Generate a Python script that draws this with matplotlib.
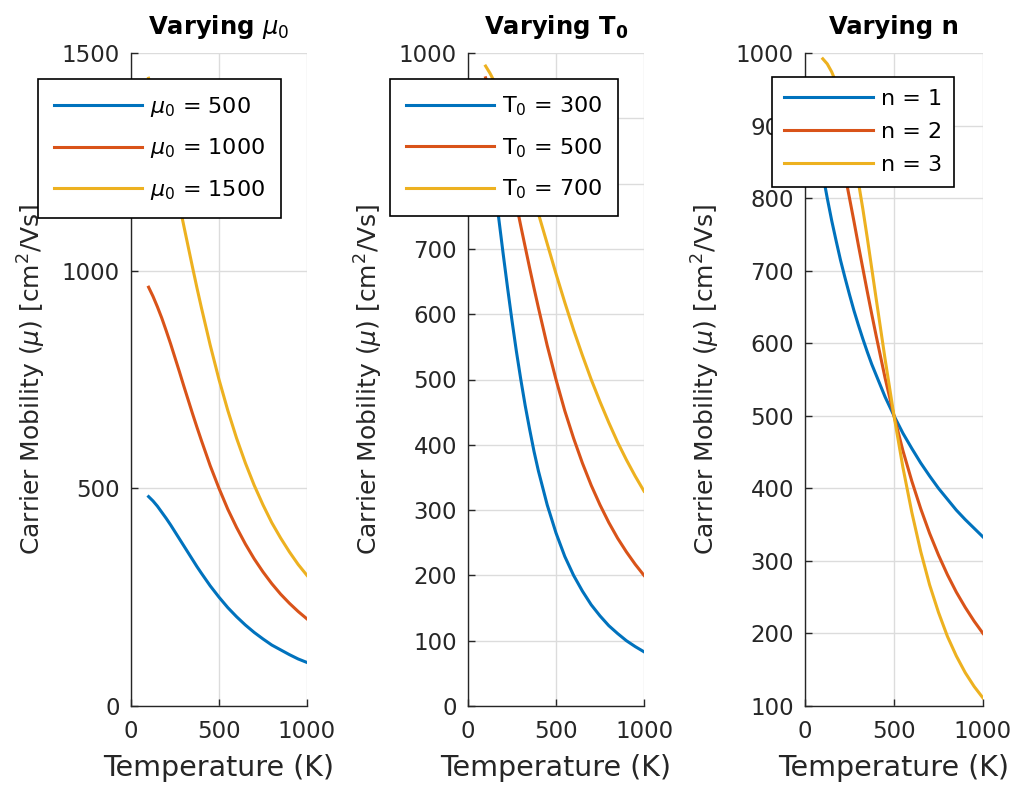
import numpy as np
import matplotlib.pyplot as plt

# Temperatura (K)
T = [100, 125, 150, 175, 200, 225, 250, 275, 300, 325, 350, 375, 400,
     450, 500, 550, 600, 650, 700, 750, 800, 850, 900, 950, 1000]

# Panel 1: variando mu0
mu_500 = [481, 471, 459, 445, 431, 416, 400, 384, 368, 352, 336, 320, 305,
          276, 250, 226, 205, 186, 169, 154, 140, 129, 118, 108, 100]
mu_1000 = [962, 941, 917, 891, 862, 832, 800, 768, 735, 703, 671, 640, 610,
           552, 500, 452, 410, 372, 338, 308, 281, 257, 236, 217, 200]
mu_1500 = [1442, 1412, 1376, 1336, 1293, 1247, 1200, 1152, 1103, 1055, 1007, 960, 915,
           829, 750, 679, 615, 558, 507, 462, 421, 386, 354, 325, 300]

# Panel 2: variando T0
t0_300 = [900, 852, 800, 746, 692, 640, 590, 543, 500, 460, 424, 390, 360,
          308, 265, 229, 200, 176, 155, 138, 123, 111, 100, 91, 83]
t0_500 = [962, 941, 917, 891, 862, 832, 800, 768, 735, 703, 671, 640, 610,
          552, 500, 452, 410, 372, 338, 308, 281, 257, 236, 217, 200]
t0_700 = [980, 969, 956, 941, 925, 906, 887, 866, 845, 823, 800, 777, 754,
          708, 662, 618, 576, 537, 500, 466, 434, 404, 377, 352, 329]

# Panel 3: variando n
n_1 = [833, 800, 769, 741, 714, 690, 667, 645, 625, 606, 588, 571, 556,
       526, 500, 476, 455, 435, 417, 400, 385, 370, 357, 345, 333]
n_2 = [962, 941, 917, 891, 862, 832, 800, 768, 735, 703, 671, 640, 610,
       552, 500, 452, 410, 372, 338, 308, 281, 257, 236, 217, 200]
n_3 = [992, 985, 974, 959, 940, 916, 889, 857, 822, 785, 745, 703, 661,
       578, 500, 429, 367, 313, 267, 229, 196, 169, 146, 127, 111]

labels1 = [r'$\mu_0$ = 500', r'$\mu_0$ = 1000', r'$\mu_0$ = 1500']
labels2 = [r'T$_0$ = 300', r'T$_0$ = 500', r'T$_0$ = 700']
labels3 = ['n = 1', 'n = 2', 'n = 3']
titles = [r'Varying $\boldsymbol{\mu_0}$', r'Varying T$_\mathbf{0}$', 'Varying n']

plt.rcParams['font.family'] = 'DejaVu Sans'
plt.rcParams['mathtext.fontset'] = 'dejavusans'

colores = ['#0072BD', '#D95319', '#EDB120']
gris = '#262626'

fig = plt.figure(figsize=(10.17, 7.87), dpi=100)

W = 1017
H = 787
# posiciones de los ejes (pixeles)
pos = [(131, 307), (468, 644), (805, 983)]
top, bottom = 53, 706
leg_pos = [(38, 79), (390, 79), (772, 77)]
leg_esp = [0.8, 0.8, 0.58]
leg_borde = [0.7, 0.7, 0.55]

series = [[mu_500, mu_1000, mu_1500],
          [t0_300, t0_500, t0_700],
          [n_1, n_2, n_3]]
etiquetas = [labels1, labels2, labels3]
ylims = [(0, 1500), (0, 1000), (100, 1000)]
yticks = [np.arange(0, 1501, 500), np.arange(0, 1001, 100),
          np.arange(100, 1001, 100)]

for i in range(3):
    l, r = pos[i]
    ax = fig.add_axes([l / W, 1 - bottom / H, (r - l) / W, (bottom - top) / H])
    for y, c, lab in zip(series[i], colores, etiquetas[i]):
        ax.plot(T, y, color=c, linewidth=2.2, label=lab)
    ax.set_xlim(0, 1000)
    ax.set_ylim(*ylims[i])
    ax.set_xticks([0, 500, 1000])
    ax.set_yticks(yticks[i])
    ax.grid(True, color='#dcdcdc', linewidth=1.0)
    ax.set_axisbelow(True)
    for s in ['top', 'right']:
        ax.spines[s].set_visible(False)
    for s in ['left', 'bottom']:
        ax.spines[s].set_color(gris)
        ax.spines[s].set_linewidth(1.0)
    ax.tick_params(direction='in', length=5, colors=gris, labelsize=16.5,
                   width=1.0)
    ax.tick_params(axis='y', pad=8)
    ax.tick_params(axis='x', pad=10)
    ax.set_xlabel('Temperature (K)', fontsize=20.5, color=gris, labelpad=8)
    ax.set_ylabel(r'Carrier Mobility ($\mu$) [cm$^2$/Vs]', fontsize=18,
                  color=gris, labelpad=10)
    ax.set_title(titles[i], fontsize=17.5, fontweight='bold', pad=14)
    lx, ly = leg_pos[i]
    leg = ax.legend(loc='upper left', bbox_to_anchor=(lx / W, 1 - ly / H),
                    bbox_transform=fig.transFigure, fontsize=16,
                    handlelength=4.0, handletextpad=0.35, labelspacing=leg_esp[i],
                    borderpad=leg_borde[i], borderaxespad=0, fancybox=False,
                    framealpha=1, edgecolor='black')
    leg.get_frame().set_linewidth(1.2)

fig.savefig('out.png', dpi=100)
